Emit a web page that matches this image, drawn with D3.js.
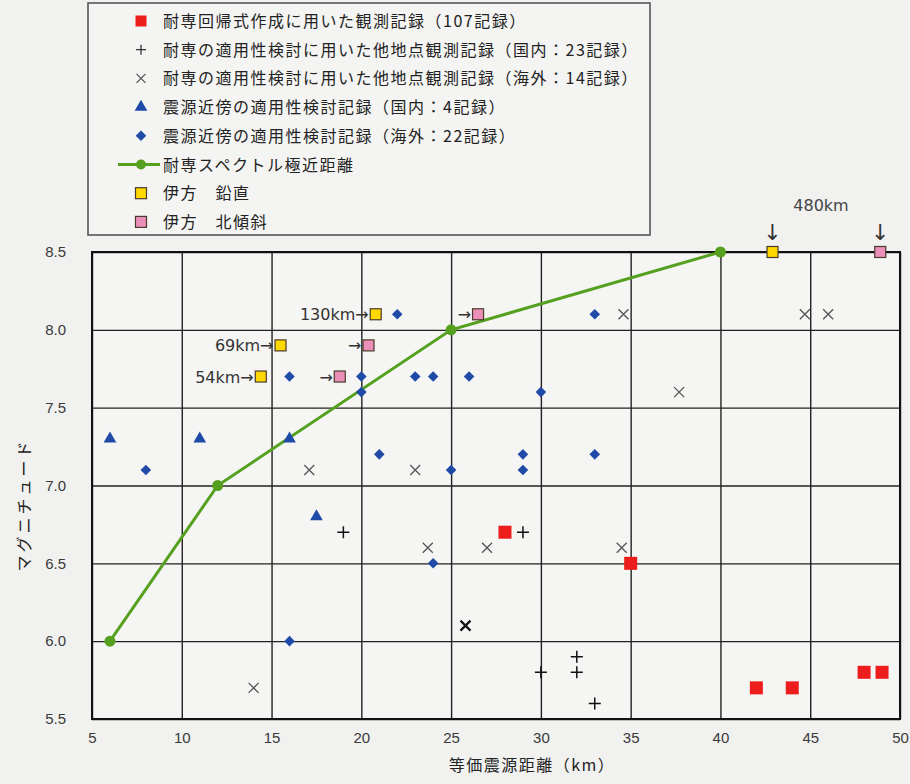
<!DOCTYPE html>
<html>
<head>
<meta charset="utf-8">
<script src="https://cdn.jsdelivr.net/npm/d3@7"></script>
<style>
  body { margin: 0; background: #f1f1ef; }
  svg { display: block; }
  .jp { font-family: "Noto Sans CJK JP", sans-serif; }
</style>
</head>
<body>
<svg id="chart"></svg>
<script>
// 目盛り
const xTicks = [5, 10, 15, 20, 25, 30, 35, 40, 45, 50];
const yTicks = [5.5, 6.0, 6.5, 7.0, 7.5, 8.0, 8.5];

// [等価震源距離(km), マグニチュード]
const regressionRecords = [[28, 6.7], [35, 6.5], [42, 5.7], [44, 5.7], [48, 5.8], [49, 5.8]];
const otherDomestic = [[19, 6.7], [29, 6.7], [30, 5.8], [32, 5.9], [32, 5.8], [33, 5.6]];
const otherOverseas = [[14, 5.7], [17.1, 7.1], [23, 7.1], [23.7, 6.6], [27, 6.6], [34.5, 6.6],
  [34.6, 8.1], [37.7, 7.6], [44.7, 8.1], [46, 8.1]];
const otherOverseasDark = [[25.8, 6.1]];
const nearDomestic = [[6, 7.3], [11, 7.3], [16, 7.3], [17.5, 6.8]];
const nearOverseas = [[8, 7.1], [16, 7.7], [20, 7.7], [20, 7.6], [22, 8.1], [21, 7.2], [23, 7.7],
  [24, 7.7], [26, 7.7], [25, 7.1], [24, 6.5], [16, 6.0], [29, 7.2], [29, 7.1], [33, 7.2],
  [30, 7.6], [33, 8.1]];
const spectrumLimit = [[6, 6.0], [12, 7.0], [25, 8.0], [40, 8.5]];
const ikataVertical = [[14.4, 7.7], [15.5, 7.9], [20.8, 8.1], [42.9, 8.5]];
const ikataNorth = [[18.8, 7.7], [20.4, 7.9], [26.5, 8.1], [48.9, 8.5]];
const ikataVerticalNotes = ["54km→", "69km→", "130km→", "↓"];
const ikataNorthNotes = ["→", "→", "→", "↓"];
const farNote = { x: 45.6, y: 8.5, text: "480km" };

const legendLabels = [
  "耐専回帰式作成に用いた観測記録（107記録）",
  "耐専の適用性検討に用いた他地点観測記録（国内：23記録）",
  "耐専の適用性検討に用いた他地点観測記録（海外：14記録）",
  "震源近傍の適用性検討記録（国内：4記録）",
  "震源近傍の適用性検討記録（海外：22記録）",
  "耐専スペクトル極近距離",
  "伊方　鉛直",
  "伊方　北傾斜"
];

const width = 910, height = 784;
const svg = d3.select("#chart").attr("width", width).attr("height", height);

const x = d3.scaleLinear().domain([5, 50]).range([92, 900]);
const y = d3.scaleLinear().domain([5.5, 8.5]).range([719, 252]);

const colors = {
  red: "#ee1d1d", blue: "#1f4aa8", green: "#56a020", yellow: "#ffd800", pink: "#ec8fb8",
  gray: "#555", ink: "#1a1a1a"
};

// プロット領域
svg.append("rect")
  .attr("x", x(5)).attr("y", y(8.5))
  .attr("width", x(50) - x(5)).attr("height", y(5.5) - y(8.5))
  .attr("fill", "#f5f5f3");

// 格子と軸
const gx = svg.append("g")
  .attr("transform", `translate(0,${y(5.5)})`)
  .call(d3.axisBottom(x).tickValues(xTicks).tickSizeInner(-(y(5.5) - y(8.5))).tickSizeOuter(0).tickPadding(13));
const gy = svg.append("g")
  .attr("transform", `translate(${x(5)},0)`)
  .call(d3.axisLeft(y).tickValues(yTicks).tickFormat(d3.format(".1f"))
    .tickSizeInner(-(x(50) - x(5))).tickSizeOuter(0).tickPadding(26));
[gx, gy].forEach(g => {
  g.select(".domain").remove();
  g.selectAll(".tick line").attr("stroke", "#222").attr("stroke-width", 1.4);
  g.selectAll(".tick text")
    .attr("font-family", "Liberation Sans, Arial, sans-serif")
    .attr("font-size", 15).attr("fill", "#3a3a3a");
});

svg.append("rect")
  .attr("x", x(5)).attr("y", y(8.5))
  .attr("width", x(50) - x(5)).attr("height", y(5.5) - y(8.5))
  .attr("fill", "none").attr("stroke", "#111").attr("stroke-width", 2);

// 軸タイトル
svg.append("text").attr("class", "jp")
  .attr("x", 532).attr("y", 771).attr("text-anchor", "middle")
  .attr("font-size", 16).attr("letter-spacing", 1.5).attr("fill", "#222")
  .text("等価震源距離（km）");
svg.append("text").attr("class", "jp")
  .attr("transform", "translate(30,505) rotate(-90)").attr("text-anchor", "middle")
  .attr("font-size", 16).attr("letter-spacing", 3).attr("fill", "#222")
  .text("マグニチュード");

// 記号
const diamond = d3.symbol().type(d3.symbolSquare).size(56)();
const triangle = d3.symbol().type(d3.symbolTriangle).size(70)();
const plus = "M-6,0H6M0,-6V6";
const cross = "M-5,-5L5,5M-5,5L5,-5";

function drawPaths(data, d, attrs, rot) {
  const sel = svg.append("g").selectAll("path").data(data).join("path")
    .attr("d", d)
    .attr("transform", p => `translate(${x(p[0])},${y(p[1])})${rot ? " rotate(45)" : ""}`);
  Object.entries(attrs).forEach(([k, v]) => sel.attr(k, v));
}

// 耐専スペクトル極近距離
svg.append("path")
  .datum(spectrumLimit)
  .attr("d", d3.line().x(d => x(d[0])).y(d => y(d[1])))
  .attr("fill", "none").attr("stroke", colors.green).attr("stroke-width", 3);
svg.append("g").selectAll("circle").data(spectrumLimit).join("circle")
  .attr("cx", d => x(d[0])).attr("cy", d => y(d[1])).attr("r", 5.5)
  .attr("fill", colors.green);

drawPaths(otherOverseas, cross, { stroke: colors.gray, "stroke-width": 1.3, fill: "none" });
drawPaths(otherOverseasDark, cross, { stroke: "#111", "stroke-width": 2.2, fill: "none" });
drawPaths(otherDomestic, plus, { stroke: "#111", "stroke-width": 1.5, fill: "none" });
drawPaths(nearDomestic, triangle, { fill: colors.blue });
drawPaths(nearOverseas, diamond, { fill: colors.blue }, true);

svg.append("g").selectAll("rect").data(regressionRecords).join("rect")
  .attr("x", d => x(d[0]) - 6.5).attr("y", d => y(d[1]) - 6.5)
  .attr("width", 13).attr("height", 13).attr("fill", colors.red);

function drawIkata(data, notes, fill) {
  const g = svg.append("g");
  g.selectAll("rect").data(data).join("rect")
    .attr("x", d => x(d[0]) - 5.5).attr("y", d => y(d[1]) - 5.5)
    .attr("width", 11).attr("height", 11)
    .attr("fill", fill).attr("stroke", "#4a3a2a").attr("stroke-width", 1.2);
  g.selectAll("text").data(data).join("text")
    .attr("font-family", "DejaVu Sans, sans-serif").attr("fill", "#333")
    .attr("font-size", (d, i) => notes[i] === "↓" ? 22 : 16)
    .attr("text-anchor", (d, i) => notes[i] === "↓" ? "middle" : "end")
    .attr("x", (d, i) => notes[i] === "↓" ? x(d[0]) : x(d[0]) - 7)
    .attr("y", (d, i) => notes[i] === "↓" ? y(d[1]) - 12 : y(d[1]) + 6)
    .text((d, i) => notes[i]);
}
drawIkata(ikataVertical, ikataVerticalNotes, colors.yellow);
drawIkata(ikataNorth, ikataNorthNotes, colors.pink);

svg.append("text")
  .attr("x", x(farNote.x)).attr("y", y(farNote.y) - 41).attr("text-anchor", "middle")
  .attr("font-family", "DejaVu Sans, sans-serif").attr("font-size", 16).attr("fill", "#444")
  .text(farNote.text);

// 凡例
const legend = svg.append("g");
legend.append("rect")
  .attr("x", 88).attr("y", 3).attr("width", 562).attr("height", 232)
  .attr("fill", "#f4f4f2").attr("stroke", "#555").attr("stroke-width", 1.6);
const rowY = i => 21 + i * 28.7;
const mx = 141;
legend.append("rect").attr("x", mx - 5.5).attr("y", rowY(0) - 5.5).attr("width", 11).attr("height", 11).attr("fill", colors.red);
legend.append("path").attr("d", "M-5,0H5M0,-5V5").attr("transform", `translate(${mx},${rowY(1)})`).attr("stroke", "#333").attr("stroke-width", 1.3);
legend.append("path").attr("d", "M-4.5,-4.5L4.5,4.5M-4.5,4.5L4.5,-4.5").attr("transform", `translate(${mx},${rowY(2)})`).attr("stroke", colors.gray).attr("stroke-width", 1.3);
legend.append("path").attr("d", triangle).attr("transform", `translate(${mx},${rowY(3)})`).attr("fill", colors.blue);
legend.append("path").attr("d", diamond).attr("transform", `translate(${mx},${rowY(4)}) rotate(45)`).attr("fill", colors.blue);
legend.append("line").attr("x1", 118).attr("x2", 160).attr("y1", rowY(5)).attr("y2", rowY(5)).attr("stroke", colors.green).attr("stroke-width", 3);
legend.append("circle").attr("cx", mx).attr("cy", rowY(5)).attr("r", 5).attr("fill", colors.green);
[colors.yellow, colors.pink].forEach((c, k) => {
  legend.append("rect").attr("x", mx - 5.5).attr("y", rowY(6 + k) - 5.5).attr("width", 11).attr("height", 11)
    .attr("fill", c).attr("stroke", "#4a3a2a").attr("stroke-width", 1.2);
});
legend.selectAll("text.lab").data(legendLabels).join("text")
  .attr("class", "lab jp")
  .attr("x", 163).attr("y", (d, i) => rowY(i) + 6)
  .attr("font-size", 16).attr("letter-spacing", 1.5).attr("fill", "#222")
  .text(d => d);
</script>
</body>
</html>
